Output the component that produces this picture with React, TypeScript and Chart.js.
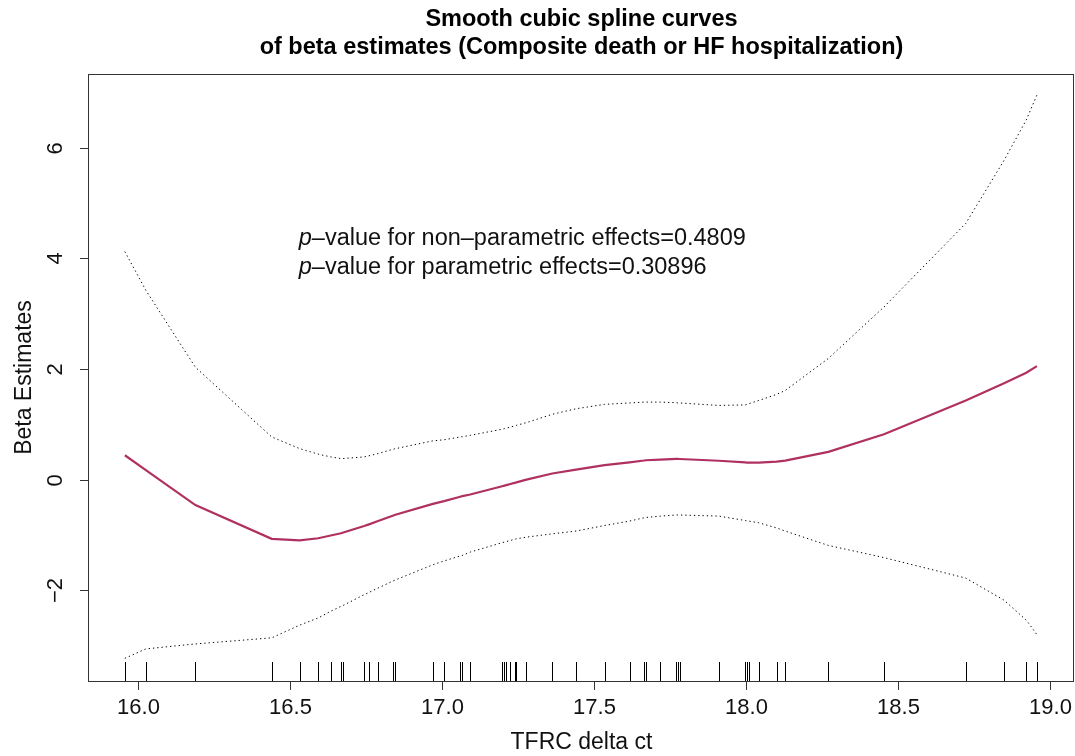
import React, { useEffect, useRef } from "react";
import { Chart, registerables } from "chart.js";

Chart.register(...registerables);

// ---- data ----
const xValues = [
  15.958, 16.027, 16.19, 16.441, 16.533, 16.594, 16.635, 16.669, 16.674, 16.745,
  16.761, 16.791, 16.841, 16.845, 16.971, 17.008, 17.061, 17.068, 17.094, 17.199,
  17.206, 17.213, 17.226, 17.24, 17.246, 17.279, 17.364, 17.442, 17.536, 17.618,
  17.666, 17.671, 17.719, 17.772, 17.777, 17.783, 17.912, 17.999, 18.004, 18.01,
  18.043, 18.102, 18.13, 18.272, 18.455, 18.724, 18.85, 18.923, 18.958,
];
const fitValues = [
  0.44, 0.17, -0.46, -1.07, -1.1, -1.06, -1.01, -0.97, -0.96, -0.84,
  -0.81, -0.75, -0.65, -0.64, -0.44, -0.39, -0.31, -0.3, -0.27, -0.12,
  -0.11, -0.1, -0.08, -0.06, -0.05, 0.0, 0.11, 0.18, 0.26, 0.31,
  0.345, 0.35, 0.36, 0.373, 0.373, 0.372, 0.34, 0.31, 0.307, 0.305,
  0.305, 0.325, 0.343, 0.5, 0.82, 1.43, 1.74, 1.93, 2.05,
];
const upperValues = [
  4.12, 3.42, 2.03, 0.77, 0.56, 0.46, 0.41, 0.38, 0.38, 0.41,
  0.43, 0.47, 0.55, 0.555, 0.7, 0.72, 0.77, 0.775, 0.8, 0.91,
  0.92, 0.93, 0.95, 0.97, 0.98, 1.03, 1.18, 1.28, 1.36, 1.385,
  1.4, 1.4, 1.4, 1.39, 1.385, 1.385, 1.34, 1.35, 1.36, 1.37,
  1.43, 1.54, 1.61, 2.19, 3.12, 4.63, 5.77, 6.5, 6.95,
];
const lowerValues = [
  -3.23, -3.06, -2.97, -2.86, -2.63, -2.5, -2.38, -2.29, -2.28, -2.08,
  -2.04, -1.96, -1.83, -1.82, -1.54, -1.47, -1.38, -1.37, -1.31, -1.14,
  -1.13, -1.12, -1.1, -1.08, -1.07, -1.04, -0.98, -0.93, -0.83, -0.75,
  -0.69, -0.685, -0.66, -0.64, -0.64, -0.64, -0.66, -0.74, -0.745, -0.75,
  -0.78, -0.875, -0.93, -1.19, -1.41, -1.78, -2.18, -2.54, -2.8,
];
const xTickValues = [16.0, 16.5, 17.0, 17.5, 18.0, 18.5, 19.0];
const xTickLabels = ["16.0", "16.5", "17.0", "17.5", "18.0", "18.5", "19.0"];
const yTickValues = [-2, 0, 2, 4, 6];
const yTickLabels = ["\u22122", "0", "2", "4", "6"];

const titleLines = [
  "Smooth cubic spline curves",
  "of beta estimates (Composite death or HF hospitalization)",
];
const xTitle = "TFRC delta ct";
const yTitle = "Beta Estimates";
const annotationLines = [
  "\u2013value for non\u2013parametric effects=0.4809",
  "\u2013value for parametric effects=0.30896",
];
const annotationX = 16.53;
const annotationY = [4.36, 3.84];

const FONT = "'Liberation Sans', Arial, Helvetica, sans-serif";

const decorPlugin = {
  id: "decor",
  afterDraw(chart: any) {
    const ctx: CanvasRenderingContext2D = chart.ctx;
    const area = chart.chartArea;
    const xs = chart.scales.x;
    const ys = chart.scales.y;
    ctx.save();

    // rug
    ctx.strokeStyle = "#000";
    ctx.lineWidth = 1;
    ctx.beginPath();
    for (const v of xValues) {
      const px = Math.round(xs.getPixelForValue(v)) + 0.5;
      ctx.moveTo(px, area.bottom - 19);
      ctx.lineTo(px, area.bottom);
    }
    ctx.stroke();

    // box
    ctx.strokeStyle = "#333";
    ctx.lineWidth = 1;
    ctx.strokeRect(
      Math.round(area.left) - 0.5,
      Math.round(area.top) + 0.5,
      Math.round(area.right - area.left),
      Math.round(area.bottom - area.top)
    );

    // x ticks
    ctx.fillStyle = "#111";
    ctx.strokeStyle = "#333";
    ctx.font = `22px ${FONT}`;
    ctx.textAlign = "center";
    ctx.textBaseline = "middle";
    xTickValues.forEach((v, i) => {
      const px = Math.round(xs.getPixelForValue(v)) + 0.5;
      ctx.beginPath();
      ctx.moveTo(px, area.bottom);
      ctx.lineTo(px, area.bottom + 9);
      ctx.stroke();
      ctx.fillText(xTickLabels[i], px, area.bottom + 27);
    });

    // y ticks
    yTickValues.forEach((v, i) => {
      const py = Math.round(ys.getPixelForValue(v)) + 0.5;
      ctx.beginPath();
      ctx.moveTo(area.left - 9, py);
      ctx.lineTo(area.left, py);
      ctx.stroke();
      ctx.save();
      ctx.translate(area.left - 33, py);
      ctx.rotate(-Math.PI / 2);
      ctx.fillText(yTickLabels[i], 0, 0);
      ctx.restore();
    });

    // axis titles
    ctx.font = `23px ${FONT}`;
    ctx.fillText(xTitle, (area.left + area.right) / 2, area.bottom + 62);
    ctx.save();
    ctx.translate(area.left - 64, (area.top + area.bottom) / 2);
    ctx.rotate(-Math.PI / 2);
    ctx.fillText(yTitle, 0, 0);
    ctx.restore();

    // main title
    ctx.fillStyle = "#000";
    ctx.font = `bold 23.5px ${FONT}`;
    const cx = (area.left + area.right) / 2;
    ctx.fillText(titleLines[0], cx, 20);
    ctx.fillText(titleLines[1], cx, 48);

    // annotation
    ctx.fillStyle = "#111";
    ctx.textAlign = "left";
    annotationLines.forEach((line, i) => {
      const px = xs.getPixelForValue(annotationX);
      const py = ys.getPixelForValue(annotationY[i]);
      ctx.font = `italic 23.5px ${FONT}`;
      ctx.fillText("p", px, py);
      const w = ctx.measureText("p").width;
      ctx.font = `23.5px ${FONT}`;
      ctx.fillText(line, px + w, py);
    });

    ctx.restore();
  },
};

export default function App() {
  const canvasRef = useRef<HTMLCanvasElement | null>(null);

  useEffect(() => {
    if (!canvasRef.current) return;
    const toPts = (ys: number[]) => xValues.map((x, i) => ({ x, y: ys[i] }));
    const chart = new Chart(canvasRef.current, {
      type: "line",
      data: {
        datasets: [
          {
            data: toPts(fitValues),
            borderColor: "#B03060",
            borderWidth: 2.2,
            pointRadius: 0,
            tension: 0,
            fill: false,
          },
          {
            data: toPts(upperValues),
            borderColor: "#000",
            borderWidth: 1,
            borderDash: [1.3, 3],
            pointRadius: 0,
            tension: 0,
            fill: false,
          },
          {
            data: toPts(lowerValues),
            borderColor: "#000",
            borderWidth: 1,
            borderDash: [1.3, 3],
            pointRadius: 0,
            tension: 0,
            fill: false,
          },
        ],
      },
      options: {
        animation: false,
        responsive: false,
        devicePixelRatio: 1,
        layout: { padding: { left: 89, right: 1, top: 74, bottom: 75 } },
        plugins: { legend: { display: false }, tooltip: { enabled: false } },
        scales: {
          x: { type: "linear", min: 15.84, max: 19.08, display: false },
          y: { type: "linear", min: -3.64, max: 7.33, display: false },
        },
      },
      plugins: [decorPlugin],
    });
    return () => chart.destroy();
  }, []);

  return (
    <div style={{ position: "fixed", left: 0, top: 0, width: 1075, height: 756, background: "#fff" }}>
      <canvas ref={canvasRef} width={1075} height={756} style={{ width: 1075, height: 756 }} />
    </div>
  );
}
